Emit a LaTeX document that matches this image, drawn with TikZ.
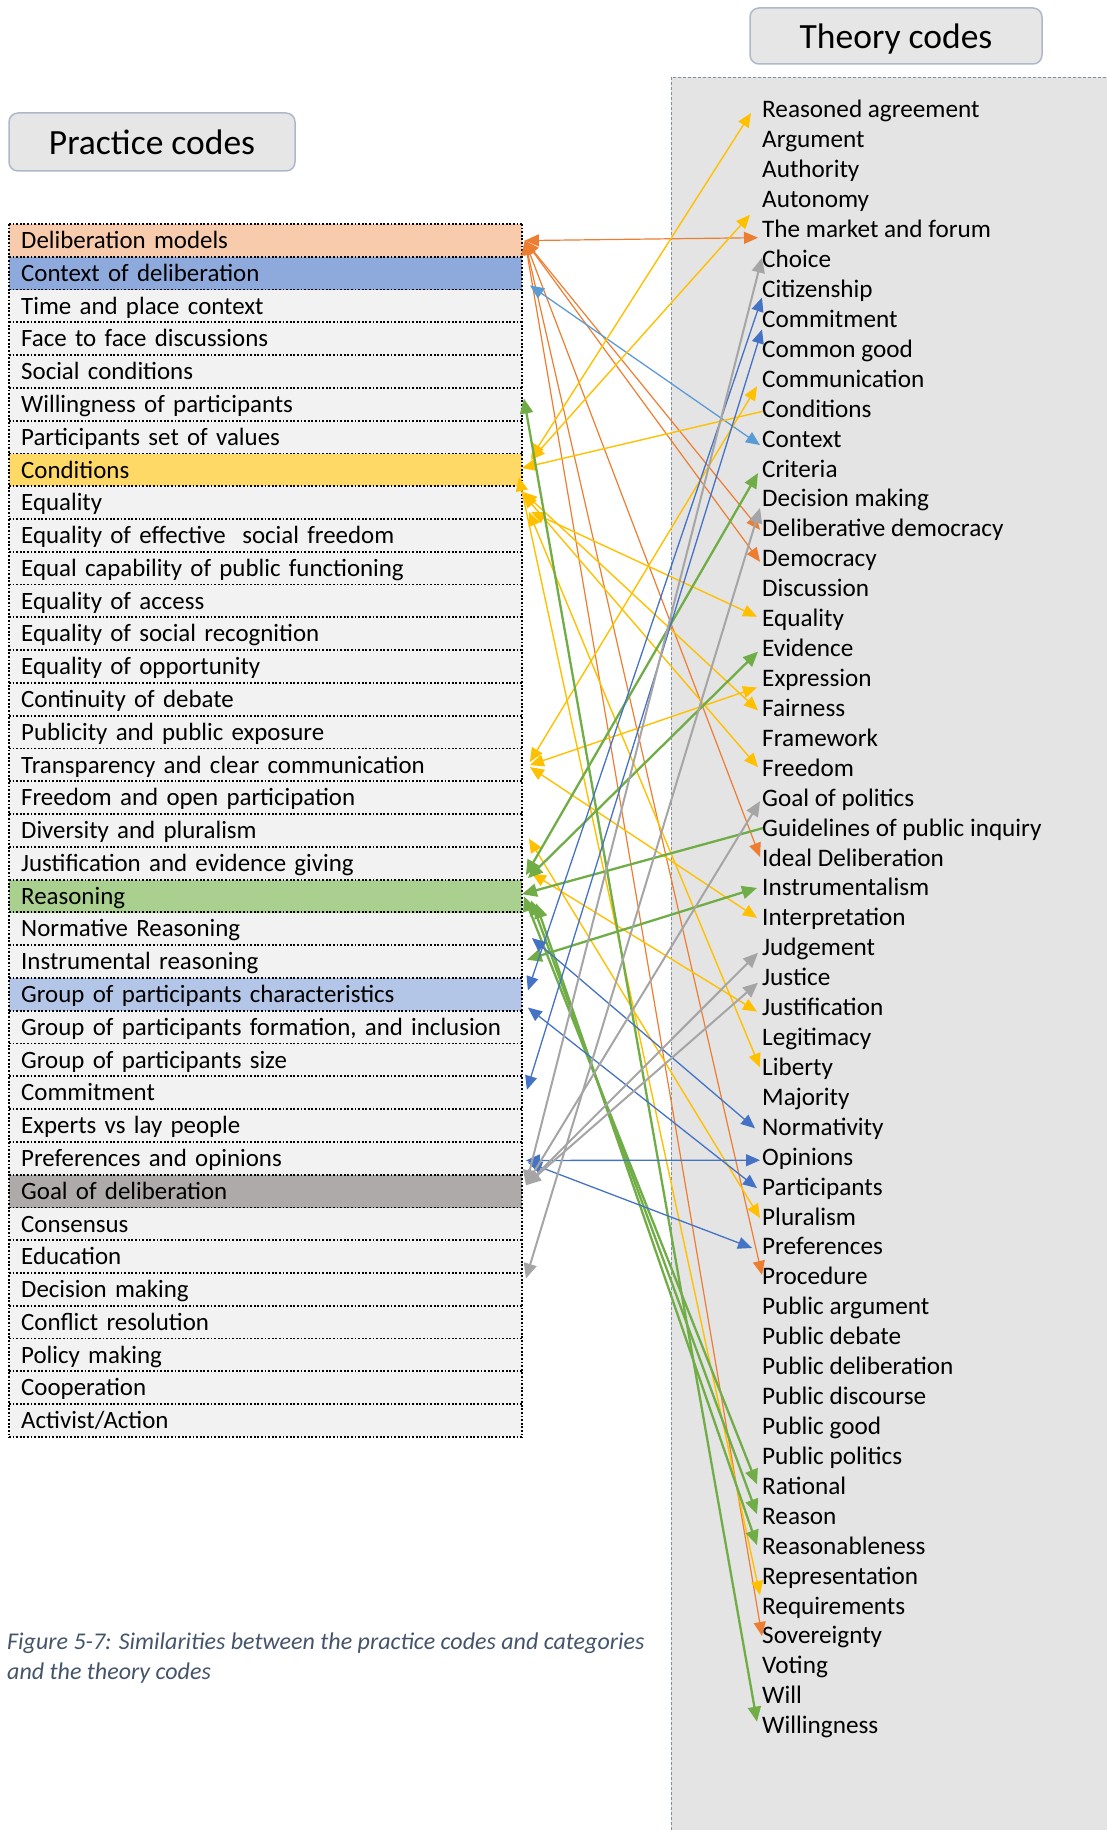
\documentclass[tikz,border=0pt]{standalone}
\usepackage{fontspec}
\setmainfont{Carlito}
\usetikzlibrary{arrows.meta}

\definecolor{cOr}{HTML}{ED7D31}
\definecolor{cYe}{HTML}{FFC000}
\definecolor{cGr}{HTML}{70AD47}
\definecolor{cGy}{HTML}{A5A5A5}
\definecolor{cBl}{HTML}{4472C4}
\definecolor{cLb}{HTML}{5B9BD5}
\definecolor{cDel}{HTML}{F8CBAD}
\definecolor{cCtx}{HTML}{8EA9DB}
\definecolor{cCond}{HTML}{FFD966}
\definecolor{cRea}{HTML}{A9D08E}
\definecolor{cGpc}{HTML}{B4C6E7}
\definecolor{cGoal}{HTML}{AEAAAA}
\definecolor{cRow}{HTML}{F2F2F2}
\definecolor{cPanel}{HTML}{E4E4E4}
\definecolor{cHdr}{HTML}{E7E6E6}
\definecolor{cHdrLine}{HTML}{ADB9CA}
\definecolor{cEdge}{HTML}{7F8FA6}
\definecolor{cCap}{HTML}{44546A}

\tikzset{
  ht/.tip={Triangle[length=14pt,width=12pt]},
  hg/.tip={Triangle[length=15pt,width=13pt]},
  prow/.style={anchor=north west, minimum height=32.78pt, text width=488.5pt,
    inner xsep=12pt, inner ysep=0pt, align=left, fill=cRow,
    font=\fontsize{24.9}{30}\selectfont, text height=16pt, text depth=0pt},
  trow/.style={anchor=west, inner sep=0pt, font=\fontsize{25.2}{30}\selectfont,
    text height=16pt, text depth=0pt},
  hdr/.style={rounded corners=9pt, fill=cHdr, draw=cHdrLine, line width=1.5pt,
    font=\fontsize{35.5}{42}\selectfont, text height=26pt, text depth=0pt},
  dotln/.style={draw=black, line width=1.8pt, dash pattern=on 1.8pt off 1.8pt},
  paneledge/.style={draw=cEdge, line width=0.9pt, dash pattern=on 3pt off 2pt},
  oline/.style={draw=cOr, line width=1.2pt, ht-ht},
  lbline/.style={draw=cLb, line width=1.3pt, ht-ht},
  yline/.style={draw=cYe, line width=1.4pt, ht-ht},
  yone/.style={draw=cYe, line width=1.4pt, -ht},
  gline/.style={draw=cGr, line width=2.3pt, hg-hg},
  gone/.style={draw=cGr, line width=2.3pt, -hg},
  gyline/.style={draw=cGy, line width=2pt, hg-hg},
  bline/.style={draw=cBl, line width=1.3pt, ht-ht},
}

\begin{document}
\begin{tikzpicture}[x=1pt,y=-1pt]
\useasboundingbox (0,0) rectangle (1107,1830);

% theory panel
\fill[cPanel] (671,77) rectangle (1115,1840);
\draw[paneledge] (671,1840) -- (671,77) -- (1115,77);

% headers
\node[hdr, minimum width=286pt, minimum height=58pt] (hPractice) at (152,142) {Practice codes};
\node[hdr, minimum width=292pt, minimum height=56pt] (hTheory) at (896,36) {Theory codes};

% practice codes table
\node[prow, fill=cDel]  (p0)  at (9,224.00)  {Deliberation models};
\node[prow, fill=cCtx]  (p1)  at (9,256.78)  {Context of deliberation};
\node[prow]             (p2)  at (9,289.56)  {Time and place context};
\node[prow]             (p3)  at (9,322.34)  {Face to face discussions};
\node[prow]             (p4)  at (9,355.12)  {Social conditions};
\node[prow]             (p5)  at (9,387.90)  {Willingness of participants};
\node[prow]             (p6)  at (9,420.68)  {Participants set of values};
\node[prow, fill=cCond] (p7)  at (9,453.46)  {Conditions};
\node[prow]             (p8)  at (9,486.24)  {Equality};
\node[prow]             (p9)  at (9,519.02)  {Equality of effective~ social freedom};
\node[prow]             (p10) at (9,551.80)  {Equal capability of public functioning};
\node[prow]             (p11) at (9,584.58)  {Equality of access};
\node[prow]             (p12) at (9,617.36)  {Equality of social recognition};
\node[prow]             (p13) at (9,650.14)  {Equality of opportunity};
\node[prow]             (p14) at (9,682.92)  {Continuity of debate};
\node[prow]             (p15) at (9,715.70)  {Publicity and public exposure};
\node[prow]             (p16) at (9,748.48)  {Transparency and clear communication};
\node[prow]             (p17) at (9,781.26)  {Freedom and open participation};
\node[prow]             (p18) at (9,814.04)  {Diversity and pluralism};
\node[prow]             (p19) at (9,846.82)  {Justification and evidence giving};
\node[prow, fill=cRea]  (p20) at (9,879.60)  {Reasoning};
\node[prow]             (p21) at (9,912.38)  {Normative Reasoning};
\node[prow]             (p22) at (9,945.16)  {Instrumental reasoning};
\node[prow, fill=cGpc]  (p23) at (9,977.94)  {Group of participants characteristics};
\node[prow]             (p24) at (9,1010.72) {Group of participants formation, and inclusion};
\node[prow]             (p25) at (9,1043.50) {Group of participants size};
\node[prow]             (p26) at (9,1076.28) {Commitment};
\node[prow]             (p27) at (9,1109.06) {Experts vs lay people};
\node[prow]             (p28) at (9,1141.84) {Preferences and opinions};
\node[prow, fill=cGoal] (p29) at (9,1174.62) {Goal of deliberation};
\node[prow]             (p30) at (9,1207.40) {Consensus};
\node[prow]             (p31) at (9,1240.18) {Education};
\node[prow]             (p32) at (9,1272.96) {Decision making};
\node[prow]             (p33) at (9,1305.74) {Conflict resolution};
\node[prow]             (p34) at (9,1338.52) {Policy making};
\node[prow]             (p35) at (9,1371.30) {Cooperation};
\node[prow]             (p36) at (9,1404.08) {Activist/Action};

% dotted grid of the table
\foreach \k in {0,...,36}
  \draw[dotln] (p\k.north west) -- (p\k.north east);
\draw[dotln] (p36.south west) -- (p36.south east);
\draw[dotln] (p0.north west) -- (p36.south west);
\draw[dotln] (p0.north east) -- (p36.south east);

% theory codes list
\foreach \t [count=\j from 0] in {Reasoned agreement, Argument, Authority, Autonomy,
  The market and forum, Choice, Citizenship, Commitment, Common good, Communication,
  Conditions, Context, Criteria, Decision making, Deliberative democracy, Democracy,
  Discussion, Equality, Evidence, Expression, Fairness, Framework, Freedom,
  Goal of politics, Guidelines of public inquiry, Ideal Deliberation, Instrumentalism,
  Interpretation, Judgement, Justice, Justification, Legitimacy, Liberty, Majority,
  Normativity, Opinions, Participants, Pluralism, Preferences, Procedure,
  Public argument, Public debate, Public deliberation, Public discourse, Public good,
  Public politics, Rational, Reason, Reasonableness, Representation, Requirements,
  Sovereignty, Voting, Will, Willingness}
  \node[trow] (t\j) at (762,{110+29.92*\j}) {\t};

% caption
\node[anchor=west, inner sep=0pt, align=left, text=cCap,
      font=\fontsize{24}{29.5}\selectfont\itshape] (caption) at (7,1658)
  {Figure 5-7: Similarities between the practice codes and categories\\and the theory codes};

% deliberation models links
\draw[oline] ([shift={(3,0)}]p0.east) -- ([shift={(-4,8)}]t4.west);
\draw[oline] ([shift={(3,0)}]p0.east) -- ([shift={(-2,1)}]t14.west);
\draw[oline] ([shift={(3,0)}]p0.east) -- ([shift={(-2,3)}]t15.west);
\draw[oline] ([shift={(3,0)}]p0.east) -- ([shift={(-2,-1)}]t25.west);
\draw[oline] ([shift={(3,0)}]p0.east) -- ([shift={(0,-2)}]t39.west);
\draw[oline] ([shift={(3,0)}]p0.east) -- ([shift={(0,0)}]t51.west);

% context links
\draw[lbline] ([shift={(8,12)}]p1.east) -- ([shift={(-2,6)}]t11.west);

% conditions links
\draw[yline] ([shift={(9,-12)}]p7.east) -- ([shift={(-11,3)}]t0.west);
\draw[yline] ([shift={(9,-10)}]p7.east) -- ([shift={(-12,15)}]t3.west);
\draw[yone]  ([shift={(1,2)}]t10.west) -- ([shift={(0,-2)}]p7.east);
\draw[yline] ([shift={(-3,7)}]p7.east) -- ([shift={(-2,-11)}]t50.west);
\draw[yline] ([shift={(9,9)}]p8.east) -- ([shift={(-5,-2)}]t17.west);
\draw[yline] ([shift={(1,-11)}]p8.east) -- ([shift={(-4,2)}]t20.west);
\draw[yline] ([shift={(1,-9)}]p8.east) -- ([shift={(-4,-1)}]t22.west);
\draw[yline] ([shift={(7,9)}]p8.east) -- ([shift={(-2,0)}]t32.west);
\draw[yline] ([shift={(8,-3)}]p16.east) -- ([shift={(-5,7)}]t9.west);
\draw[yline] ([shift={(8,0)}]p16.east) -- ([shift={(-5,9)}]t19.west);
\draw[yline] ([shift={(8,2)}]p16.east) -- ([shift={(-5,0)}]t27.west);
\draw[yline] ([shift={(7,8)}]p18.east) -- ([shift={(-2,1)}]t37.west);
\draw[yline] ([shift={(10,10)}]p19.east) -- ([shift={(-5,4)}]t30.west);

% reasoning links
\draw[gline] ([shift={(2,-6)}]p5.east) -- ([shift={(-5,-4)}]t54.west);
\draw[gline] ([shift={(4,-21)}]p20.east) -- ([shift={(-4,4)}]t12.west);
\draw[gline] ([shift={(6,-18)}]p20.east) -- ([shift={(-4,3)}]t18.west);
\draw[gone]  ([shift={(1,0)}]t24.west) -- ([shift={(0,-2)}]p20.east);
\draw[gline] ([shift={(5,-2)}]p22.east) -- ([shift={(-5,0)}]t26.west);
\draw[gline] ([shift={(2,0)}]p20.east) -- ([shift={(-5,-2)}]t46.west);
\draw[gline] ([shift={(9,4)}]p20.east) -- ([shift={(-5,-2)}]t47.west);
\draw[gline] ([shift={(14,7)}]p20.east) -- ([shift={(-5,-1)}]t48.west);

% participants links
\draw[bline] ([shift={(6,-4)}]p23.east) -- ([shift={(0,8)}]t6.west);
\draw[bline] ([shift={(5,-3)}]p26.east) -- ([shift={(0,10)}]t7.west);
\draw[bline] ([shift={(10,9)}]p21.east) -- ([shift={(-7,1)}]t34.west);
\draw[bline] ([shift={(6,13)}]p23.east) -- ([shift={(-5,1)}]t36.west);
\draw[bline] ([shift={(4,2)}]p28.east) -- ([shift={(-2,3)}]t35.west);
\draw[bline] ([shift={(6,4)}]p28.east) -- ([shift={(-10,1)}]t38.west);

% goal links
\draw[gyline] ([shift={(4,-6)}]p29.east) -- ([shift={(0,-2)}]t5.west);
\draw[gyline] ([shift={(4,-6)}]p29.east) -- ([shift={(-2,3)}]t23.west);
\draw[gyline] ([shift={(4,-6)}]p29.east) -- ([shift={(-4,5)}]t28.west);
\draw[gyline] ([shift={(4,-6)}]p29.east) -- ([shift={(-4,5)}]t29.west);
\draw[gyline] ([shift={(4,-11)}]p32.east) -- ([shift={(-2,9)}]t13.west);

\end{tikzpicture}
\end{document}
